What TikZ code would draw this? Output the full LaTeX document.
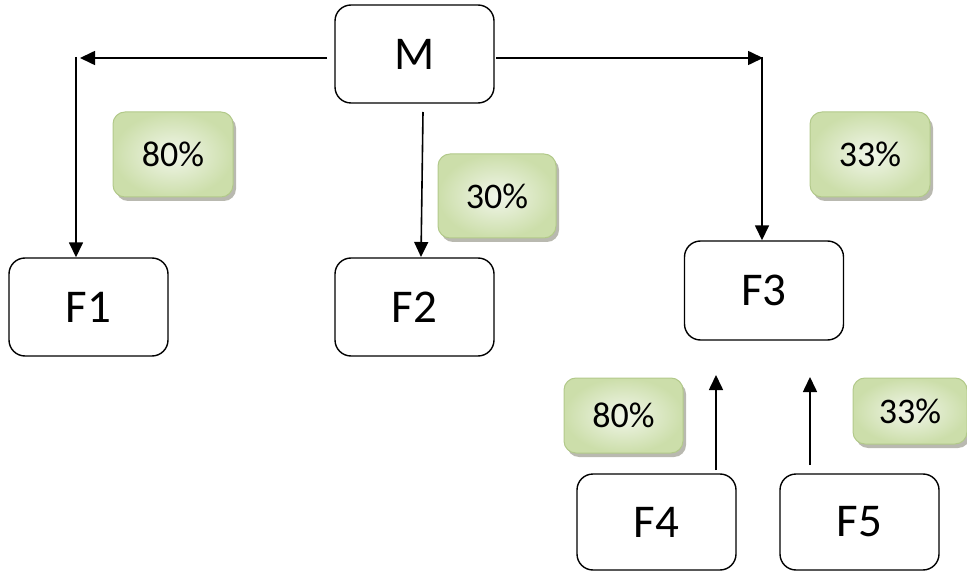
\documentclass[tikz,border=0pt]{standalone}
\usepackage{fontspec}
\setmainfont{Carlito}
\usetikzlibrary{arrows.meta,shadows}
\definecolor{pctborder}{HTML}{B2C98A}
\definecolor{pctin}{HTML}{F1F6EA}
\definecolor{pctout}{HTML}{CCDEAA}
\definecolor{pctshadow}{HTML}{A8A89C}
\tikzset{
  mainbox/.style={draw=black, line width=1.4pt, rounded corners=16pt, fill=white,
    minimum width=#1, minimum height=98pt, inner sep=0pt,
    font=\fontsize{47}{50}\selectfont},
  mainbox/.default=159pt,
  pctbox/.style={draw=pctborder, line width=1pt, rounded corners=12pt,
    inner color=pctin, outer color=pctout,
    general shadow={shadow xshift=3pt, shadow yshift=-4pt, fill=pctshadow, opacity=0.8},
    inner sep=0pt, font=\fontsize{36}{40}\selectfont},
  arr/.style={line width=1.6pt, -{Triangle[length=15pt,width=14pt]}}
}
\begin{document}
\begin{tikzpicture}[x=1pt,y=-1pt]
\useasboundingbox (0,0) rectangle (967,572);
% main boxes
\node[mainbox] (M)  at (414.5,54)  {M};
\node[mainbox] (F1) at (88.5,307)  {F1};
\node[mainbox] (F2) at (414.5,307) {F2};
\node[mainbox, minimum height=99pt] (F3) at (764,290.5) {F3};
\node[mainbox, minimum height=96pt] (F4) at (656.5,522) {F4};
\node[mainbox, minimum height=96pt] (F5) at (859.5,522) {F5};
% percent boxes
\node[pctbox, minimum width=120pt, minimum height=85pt] (p1) at (173,154.5) {80\%};
\node[pctbox, minimum width=118pt, minimum height=84pt] (p2) at (497,196) {30\%};
\node[pctbox, minimum width=120pt, minimum height=85pt] (p3) at (870,154.5) {33\%};
\node[pctbox, minimum width=119pt, minimum height=75pt] (p4) at (623.5,415.5) {80\%};
\node[pctbox, minimum width=114pt, minimum height=66pt] (p5) at (910,411) {33\%};
% connector end points
\coordinate (ml) at (327,58);
\coordinate (lc) at (80,58);
\coordinate (lv) at (76,57);
\coordinate (m2) at (423,112);
\coordinate (f2t) at (421,257);
\coordinate (mr) at (496,58);
\coordinate (rc) at (763,58);
\coordinate (rv) at (762,57);
\coordinate (b4) at (716,470);
\coordinate (t4) at (716,375);
\coordinate (b5) at (810,465);
\coordinate (t5) at (810,377);
% connectors
\draw[arr] (ml) -- (lc);
\draw[arr] (lv) -- (lv |- F1.north);
\draw[arr] (m2) -- (f2t);
\draw[arr] (mr) -- (rc);
\draw[arr] (rv) -- (rv |- F3.north);
\draw[arr] (b4) -- (t4);
\draw[arr] (b5) -- (t5);
\end{tikzpicture}
\end{document}
